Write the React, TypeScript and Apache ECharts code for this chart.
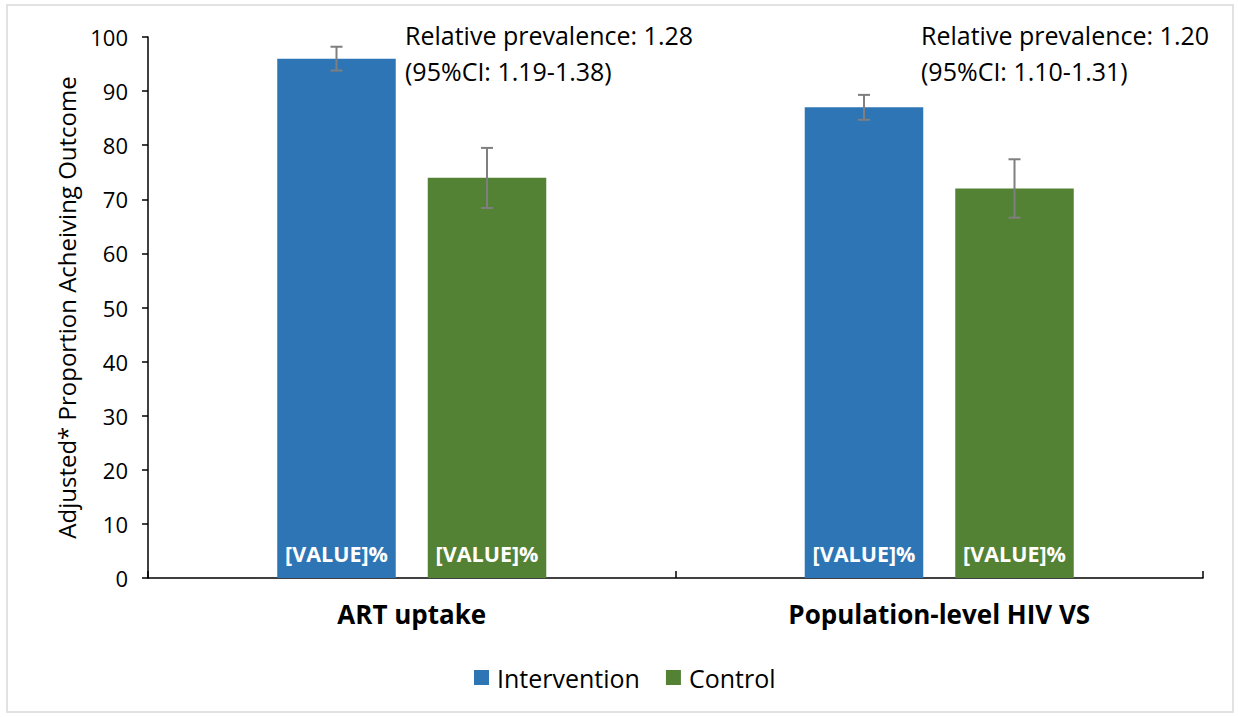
import React, { useEffect, useRef } from "react";
import * as echarts from "echarts";

const categories = ["ART uptake", "Population-level HIV VS"];
const seriesNames = ["Intervention", "Control"];
const interventionValues = [96, 87];
const controlValues = [74, 72];
const interventionLow = [93.8, 84.7];
const interventionHigh = [98.2, 89.3];
const controlLow = [68.4, 66.6];
const controlHigh = [79.5, 77.4];
const annotations = [
  ["Relative prevalence: 1.28", "(95%CI: 1.19-1.38)"],
  ["Relative prevalence: 1.20", "(95%CI: 1.10-1.31)"],
];
const yTicks = { min: 0, max: 100, interval: 10 };

const FONT = "Open Sans";
const BLUE = "#2e75b6";
const GREEN = "#548235";
const BAR_GAP = 0.27;
const CAT_GAP = 0.49;

export default function App() {
  const ref = useRef<HTMLDivElement>(null);
  useEffect(() => {
    if (!ref.current) return;
    const chart = echarts.init(ref.current, null, { renderer: "svg" });

    const errorSeries = (idx: number, lows: number[], highs: number[]) => ({
      type: "custom",
      name: seriesNames[idx] + " CI",
      z: 10,
      silent: true,
      data: lows.map((l, i) => [i, l, highs[i]]),
      renderItem: (params: any, api: any) => {
        const cat = api.value(0);
        const lo = api.coord([cat, api.value(1)]);
        const hi = api.coord([cat, api.value(2)]);
        const cw = api.size([1, 0])[0];
        const bw = (cw * (1 - CAT_GAP)) / (2 + BAR_GAP);
        const off = (bw + bw * BAR_GAP) / 2;
        const x = lo[0] + (idx === 0 ? -off : off);
        const cap = 6;
        const style = { stroke: "#7f7f7f", lineWidth: 2 };
        return {
          type: "group",
          children: [
            { type: "line", shape: { x1: x, y1: lo[1], x2: x, y2: hi[1] }, style },
            { type: "line", shape: { x1: x - cap, y1: lo[1], x2: x + cap, y2: lo[1] }, style },
            { type: "line", shape: { x1: x - cap, y1: hi[1], x2: x + cap, y2: hi[1] }, style },
          ],
        };
      },
    });

    const valueLabel = {
      show: true,
      position: "insideBottom",
      distance: 14,
      formatter: "[VALUE]%",
      color: "#ffffff",
      fontFamily: FONT,
      fontWeight: "bold",
      fontSize: 21.5,
    };

    chart.setOption({
      animation: false,
      textStyle: { fontFamily: FONT },
      grid: { left: 148, right: 35, top: 37, bottom: 139, containLabel: false },
      legend: {
        bottom: 22,
        left: 469,
        data: seriesNames,
        icon: "rect",
        itemWidth: 15,
        itemHeight: 15,
        itemGap: 26,
        textStyle: { fontFamily: FONT, fontSize: 25, color: "#000", padding: [0, 0, 0, 3] },
      },
      xAxis: {
        type: "category",
        data: categories,
        axisLine: { lineStyle: { color: "#000", width: 1.5 } },
        axisTick: { show: true, inside: true, length: 7, lineStyle: { color: "#000", width: 1.5 } },
        axisLabel: { fontFamily: FONT, fontSize: 26, fontWeight: "bold", color: "#000", margin: 23 },
      },
      yAxis: {
        type: "value",
        min: yTicks.min,
        max: yTicks.max,
        interval: yTicks.interval,
        name: "Adjusted* Proportion Acheiving Outcome",
        nameLocation: "middle",
        nameGap: 70,
        nameTextStyle: { fontFamily: FONT, fontSize: 24, color: "#000" },
        axisLine: { show: true, lineStyle: { color: "#000", width: 1.5 } },
        axisTick: { show: true, length: 6, lineStyle: { color: "#000", width: 1.5 } },
        axisLabel: { fontFamily: FONT, fontSize: 22, color: "#000", margin: 20 },
        splitLine: { show: false },
      },
      series: [
        {
          name: seriesNames[0],
          type: "bar",
          data: interventionValues,
          itemStyle: { color: BLUE },
          barGap: BAR_GAP * 100 + "%",
          barCategoryGap: CAT_GAP * 100 + "%",
          label: valueLabel,
        },
        {
          name: seriesNames[1],
          type: "bar",
          data: controlValues,
          itemStyle: { color: GREEN },
          barGap: BAR_GAP * 100 + "%",
          barCategoryGap: CAT_GAP * 100 + "%",
          label: valueLabel,
        },
        errorSeries(0, interventionLow, interventionHigh),
        errorSeries(1, controlLow, controlHigh),
      ],
      graphic: [
        {
          type: "rect",
          shape: { x: 7, y: 5, width: 1226, height: 707 },
          style: { fill: "none", stroke: "#d9d9d9", lineWidth: 1.5 },
          silent: true,
        },
        ...annotations.map((lines, i) => ({
          type: "text",
          left: i === 0 ? 405 : 921,
          top: 17,
          style: {
            text: lines.join("\n"),
            fontFamily: FONT,
            fontSize: 25,
            lineHeight: 36,
            fill: "#000",
          },
        })),
      ],
    });
    return () => chart.dispose();
  }, []);
  return (
    <div
      ref={ref}
      style={{ position: "fixed", left: 0, top: 0, width: 1238, height: 717, background: "#fff" }}
    />
  );
}
